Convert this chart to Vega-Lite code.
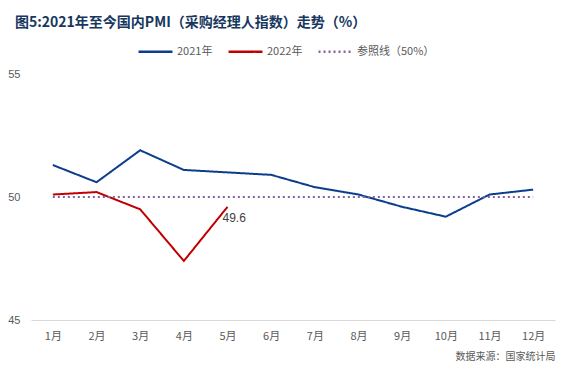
{
  "$schema": "https://vega.github.io/schema/vega-lite/v6.json",
  "width": 524,
  "height": 246,
  "autosize": {"type": "none"},
  "padding": {"left": 31, "top": 74, "right": 12, "bottom": 58},
  "background": "white",
  "title": {
    "text": "图5:2021年至今国内PMI（采购经理人指数）走势（%）",
    "anchor": "start",
    "frame": "group",
    "dx": -16,
    "offset": 3,
    "font": "Noto Sans CJK SC",
    "fontSize": 14,
    "fontWeight": "bold",
    "color": "#17375e"
  },
  "data": {
    "values": [
      {"month": "1月", "series": "2021年", "value": 51.3},
      {"month": "2月", "series": "2021年", "value": 50.6},
      {"month": "3月", "series": "2021年", "value": 51.9},
      {"month": "4月", "series": "2021年", "value": 51.1},
      {"month": "5月", "series": "2021年", "value": 51.0},
      {"month": "6月", "series": "2021年", "value": 50.9},
      {"month": "7月", "series": "2021年", "value": 50.4},
      {"month": "8月", "series": "2021年", "value": 50.1},
      {"month": "9月", "series": "2021年", "value": 49.6},
      {"month": "10月", "series": "2021年", "value": 49.2},
      {"month": "11月", "series": "2021年", "value": 50.1},
      {"month": "12月", "series": "2021年", "value": 50.3},
      {"month": "1月", "series": "2022年", "value": 50.1},
      {"month": "2月", "series": "2022年", "value": 50.2},
      {"month": "3月", "series": "2022年", "value": 49.5},
      {"month": "4月", "series": "2022年", "value": 47.4},
      {"month": "5月", "series": "2022年", "value": 49.6},
      {"month": "1月", "series": "参照线（50%）", "value": 50},
      {"month": "2月", "series": "参照线（50%）", "value": 50},
      {"month": "3月", "series": "参照线（50%）", "value": 50},
      {"month": "4月", "series": "参照线（50%）", "value": 50},
      {"month": "5月", "series": "参照线（50%）", "value": 50},
      {"month": "6月", "series": "参照线（50%）", "value": 50},
      {"month": "7月", "series": "参照线（50%）", "value": 50},
      {"month": "8月", "series": "参照线（50%）", "value": 50},
      {"month": "9月", "series": "参照线（50%）", "value": 50},
      {"month": "10月", "series": "参照线（50%）", "value": 50},
      {"month": "11月", "series": "参照线（50%）", "value": 50},
      {"month": "12月", "series": "参照线（50%）", "value": 50}
    ]
  },
  "encoding": {
    "x": {
      "field": "month",
      "type": "ordinal",
      "sort": ["1月","2月","3月","4月","5月","6月","7月","8月","9月","10月","11月","12月"],
      "scale": {"paddingInner": 0, "paddingOuter": 0.5},
      "axis": {
        "title": "数据来源：国家统计局",
        "titleAnchor": "end",
        "titleAlign": "right",
        "titleFont": "Noto Sans CJK SC",
        "titleFontSize": 10,
        "titleFontWeight": "normal",
        "titleColor": "#595959",
        "titlePadding": 10,
        "labelAngle": 0,
        "labelFont": "Noto Sans CJK SC",
        "labelFontSize": 11,
        "labelColor": "#595959",
        "labelPadding": 10,
        "ticks": false,
        "domainColor": "#d9d9d9",
        "domainWidth": 1,
        "grid": false
      }
    },
    "y": {
      "field": "value",
      "type": "quantitative",
      "scale": {"domain": [45, 55], "zero": false, "nice": false},
      "axis": {
        "title": null,
        "values": [45, 50, 55],
        "domain": false,
        "ticks": false,
        "grid": false,
        "labelFont": "Liberation Sans",
        "labelFontSize": 11,
        "labelColor": "#595959",
        "labelPadding": 11
      }
    }
  },
  "layer": [
    {
      "mark": {"type": "line", "strokeWidth": 2},
      "encoding": {
        "color": {
          "field": "series",
          "type": "nominal",
          "scale": {
            "domain": ["2021年", "2022年", "参照线（50%）"],
            "range": ["#0b3d8c", "#c00000", "#8064a2"]
          },
          "legend": {
            "title": null,
            "orient": "none",
            "direction": "horizontal",
            "legendX": 106,
            "legendY": -41,
            "symbolType": "stroke",
            "symbolSize": 1150,
            "symbolStrokeWidth": 2.5,
            "labelFont": "Noto Sans CJK SC",
            "labelFontSize": 11,
            "labelColor": "#595959",
            "labelOffset": 3,
            "columnPadding": 10
          }
        },
        "strokeDash": {
          "field": "series",
          "type": "nominal",
          "scale": {
            "domain": ["2021年", "2022年", "参照线（50%）"],
            "range": [[1, 0], [1, 0], [2, 3]]
          },
          "legend": {
            "title": null,
            "orient": "none",
            "direction": "horizontal",
            "legendX": 106,
            "legendY": -41,
            "symbolType": "stroke",
            "symbolSize": 1150,
            "symbolStrokeWidth": 2.5,
            "labelFont": "Noto Sans CJK SC",
            "labelFontSize": 11,
            "labelColor": "#595959",
            "labelOffset": 3,
            "columnPadding": 10
          }
        }
      }
    },
    {
      "transform": [{"filter": "datum.series === '2022年' && datum.month === '5月'"}],
      "mark": {
        "type": "text",
        "align": "left",
        "baseline": "middle",
        "dx": -5,
        "dy": 11,
        "font": "Liberation Sans",
        "fontSize": 12,
        "color": "#404040"
      },
      "encoding": {"text": {"field": "value", "type": "quantitative", "format": ".1f"}}
    }
  ],
  "config": {"view": {"stroke": null}}
}
